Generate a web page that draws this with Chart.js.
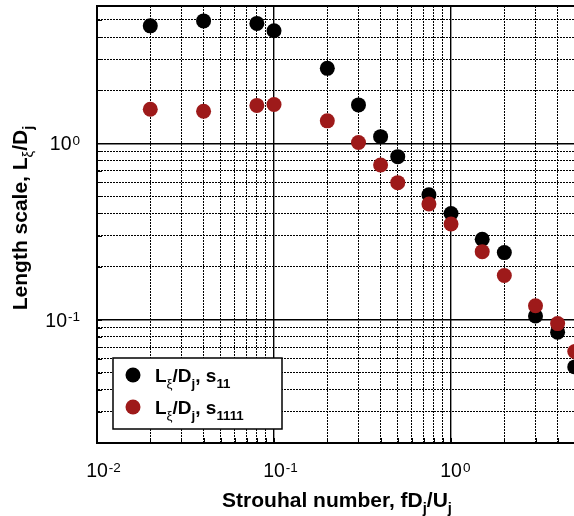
<!DOCTYPE html>
<html>
<head>
<meta charset="utf-8">
<script src="https://cdn.jsdelivr.net/npm/chart.js@4.4.1/dist/chart.umd.min.js"></script>
<style>
  html, body { margin: 0; padding: 0; background: #fff; overflow: hidden; }
  #wrap { position: relative; width: 574px; height: 516px; }
</style>
</head>
<body>
<div id="wrap"><canvas id="lengthChart" width="574" height="516"></canvas></div>
<script>
// Strouhal numbers of the measurement points
const strouhal = [0.02, 0.04, 0.08, 0.1, 0.2, 0.3, 0.4, 0.5, 0.75, 1.0, 1.5, 2.0, 3.0, 4.0, 5.0];
// integral length scale L_xi / D_j for each quantity
const lengthS11 = [4.63, 4.94, 4.78, 4.34, 2.66, 1.65, 1.09, 0.84, 0.51, 0.40, 0.286, 0.24, 0.105, 0.085, 0.054];
const lengthS1111 = [1.56, 1.52, 1.64, 1.66, 1.34, 1.01, 0.753, 0.598, 0.453, 0.349, 0.243, 0.178, 0.12, 0.095, 0.066];

// labelled decades and axis limits
const xLabelTicks = [0.01, 0.1, 1];
const yLabelTicks = [0.1, 1];
const xRange = [0.01, 4.95];
const yRange = [0.02, 6];

const FONT = '"Liberation Sans", Arial, Helvetica, sans-serif';
const RED = '#9e1a1a';

const s11Label = [{ t: 'L' }, { t: 'ξ', sub: true, bold: false }, { t: '/D' }, { t: 'j', sub: true }, { t: ', s' }, { t: '11', sub: true }];
const s1111Label = [{ t: 'L' }, { t: 'ξ', sub: true, bold: false }, { t: '/D' }, { t: 'j', sub: true }, { t: ', s' }, { t: '1111', sub: true }];
const yTitle = [{ t: 'Length scale, L' }, { t: 'ξ', sub: true, bold: false }, { t: '/D' }, { t: 'j', sub: true }];
const xTitle = [{ t: 'Strouhal number, fD' }, { t: 'j', sub: true }, { t: '/U' }, { t: 'j', sub: true }];

function isDecade(v) {
  const l = Math.log10(v);
  return Math.abs(l - Math.round(l)) < 1e-9;
}

// 1..9 x 10^k grid values inside [lo, hi]
function logGrid(lo, hi) {
  const out = [];
  for (let k = Math.floor(Math.log10(lo)); k <= Math.ceil(Math.log10(hi)); k++) {
    for (let m = 1; m <= 9; m++) {
      const v = +(m * Math.pow(10, k)).toPrecision(6);
      if (v >= lo - 1e-12 && v <= hi + 1e-12) out.push(v);
    }
  }
  return out;
}

function fontFor(p, size) {
  const s = (p.sub || p.sup) ? size * 0.7 : size;
  return (p.bold === false ? '' : 'bold ') + s.toFixed(1) + 'px ' + FONT;
}

function richWidth(ctx, parts, size) {
  let w = 0;
  parts.forEach(p => { ctx.font = fontFor(p, size); w += ctx.measureText(p.t).width; });
  return w;
}

function drawRich(ctx, parts, x, y, size, align) {
  const w = richWidth(ctx, parts, size);
  let cx = align === 'center' ? x - w / 2 : align === 'right' ? x - w : x;
  ctx.textAlign = 'left';
  ctx.textBaseline = 'alphabetic';
  parts.forEach(p => {
    ctx.font = fontFor(p, size);
    const dy = p.sub ? size * 0.3 : p.sup ? -size * 0.42 : 0;
    ctx.fillText(p.t, cx, y + dy);
    cx += ctx.measureText(p.t).width;
  });
}

const gridTick = ctx => ctx.tick && isDecade(ctx.tick.value);

const framePlugin = {
  id: 'frame',
  afterDatasetsDraw(chart) {
    const { ctx, chartArea: a, scales: { x, y } } = chart;
    ctx.save();
    ctx.strokeStyle = '#000';
    // short inner ticks along the bottom and left axes
    ctx.lineWidth = 1;
    x.ticks.forEach(t => {
      const px = Math.round(x.getPixelForValue(t.value)) + 0.5;
      ctx.beginPath(); ctx.moveTo(px, a.bottom); ctx.lineTo(px, a.bottom - 5); ctx.stroke();
    });
    y.ticks.forEach(t => {
      const py = Math.round(y.getPixelForValue(t.value)) + 0.5;
      ctx.beginPath(); ctx.moveTo(a.left, py); ctx.lineTo(a.left + 5, py); ctx.stroke();
    });
    // top edge of the frame
    ctx.lineWidth = 2;
    ctx.beginPath(); ctx.moveTo(a.left - 1, a.top); ctx.lineTo(a.right, a.top); ctx.stroke();
    ctx.restore();
  },
  afterDraw(chart) {
    const { ctx, scales: { x, y } } = chart;
    ctx.save();
    ctx.fillStyle = '#000';

    // decade labels 10^n
    xLabelTicks.forEach(v => {
      const px = x.getPixelForValue(v);
      ctx.font = '19.5px ' + FONT;
      ctx.textAlign = 'center';
      ctx.textBaseline = 'alphabetic';
      ctx.fillText('10', px, 477);
      const w = ctx.measureText('10').width;
      ctx.font = '13.5px ' + FONT;
      ctx.textAlign = 'left';
      ctx.fillText(String(Math.round(Math.log10(v))), px + w / 2 + 1, 471.5);
    });
    yLabelTicks.forEach(v => {
      const py = y.getPixelForValue(v);
      const exp = String(Math.round(Math.log10(v)));
      ctx.font = '13.5px ' + FONT;
      const ew = ctx.measureText(exp).width;
      ctx.textAlign = 'right';
      ctx.fillText(exp, 80, py + 1.5);
      ctx.font = '19.5px ' + FONT;
      ctx.fillText('10', 80 - ew - 1, py + 7);
    });

    // axis titles
    drawRich(ctx, xTitle, 337, 507, 21, 'center');
    ctx.save();
    ctx.translate(27, 218);
    ctx.rotate(-Math.PI / 2);
    drawRich(ctx, yTitle, 0, 0, 21, 'center');
    ctx.restore();

    // legend box
    ctx.fillStyle = '#fff';
    ctx.fillRect(113, 358, 169, 71);
    ctx.strokeStyle = '#000';
    ctx.lineWidth = 1.5;
    ctx.strokeRect(113, 358, 169, 71);
    const rows = [
      { parts: s11Label, color: '#000', cy: 375 },
      { parts: s1111Label, color: RED, cy: 407 }
    ];
    rows.forEach(r => {
      ctx.fillStyle = r.color;
      ctx.beginPath(); ctx.arc(133, r.cy, 7.5, 0, Math.PI * 2); ctx.fill();
      ctx.fillStyle = '#000';
      drawRich(ctx, r.parts, 155, r.cy + 6.8, 19, 'left');
    });
    ctx.restore();
  }
};

const axisCommon = {
  type: 'logarithmic',
  ticks: { display: false },
  grid: {
    color: '#000',
    lineWidth: ctx => gridTick(ctx) ? 1.4 : 1,
    drawTicks: false
  },
  border: {
    color: '#000',
    width: 2,
    dash: ctx => gridTick(ctx) ? [] : [2, 1]
  }
};

new Chart(document.getElementById('lengthChart').getContext('2d'), {
  type: 'scatter',
  data: {
    datasets: [
      {
        label: 'Lξ/Dj, s11',
        data: strouhal.map((s, i) => ({ x: s, y: lengthS11[i] })),
        backgroundColor: '#000',
        borderWidth: 0,
        pointRadius: 7.5,
        pointHoverRadius: 7.5,
        order: 1,
        clip: false
      },
      {
        label: 'Lξ/Dj, s1111',
        data: strouhal.map((s, i) => ({ x: s, y: lengthS1111[i] })),
        backgroundColor: RED,
        borderWidth: 0,
        pointRadius: 7.5,
        pointHoverRadius: 7.5,
        order: 0,
        clip: false
      }
    ]
  },
  options: {
    responsive: false,
    animation: false,
    layout: { autoPadding: false, padding: { left: 97, top: 6, right: 0, bottom: 73 } },
    plugins: { legend: { display: false }, tooltip: { enabled: false } },
    scales: {
      x: {
        ...axisCommon,
        min: xRange[0],
        max: xRange[1],
        afterBuildTicks: axis => { axis.ticks = logGrid(xRange[0], xRange[1]).map(v => ({ value: v })); }
      },
      y: {
        ...axisCommon,
        min: yRange[0],
        max: yRange[1],
        afterBuildTicks: axis => { axis.ticks = logGrid(yRange[0], yRange[1]).map(v => ({ value: v })); }
      }
    }
  },
  plugins: [framePlugin]
});
</script>
</body>
</html>
